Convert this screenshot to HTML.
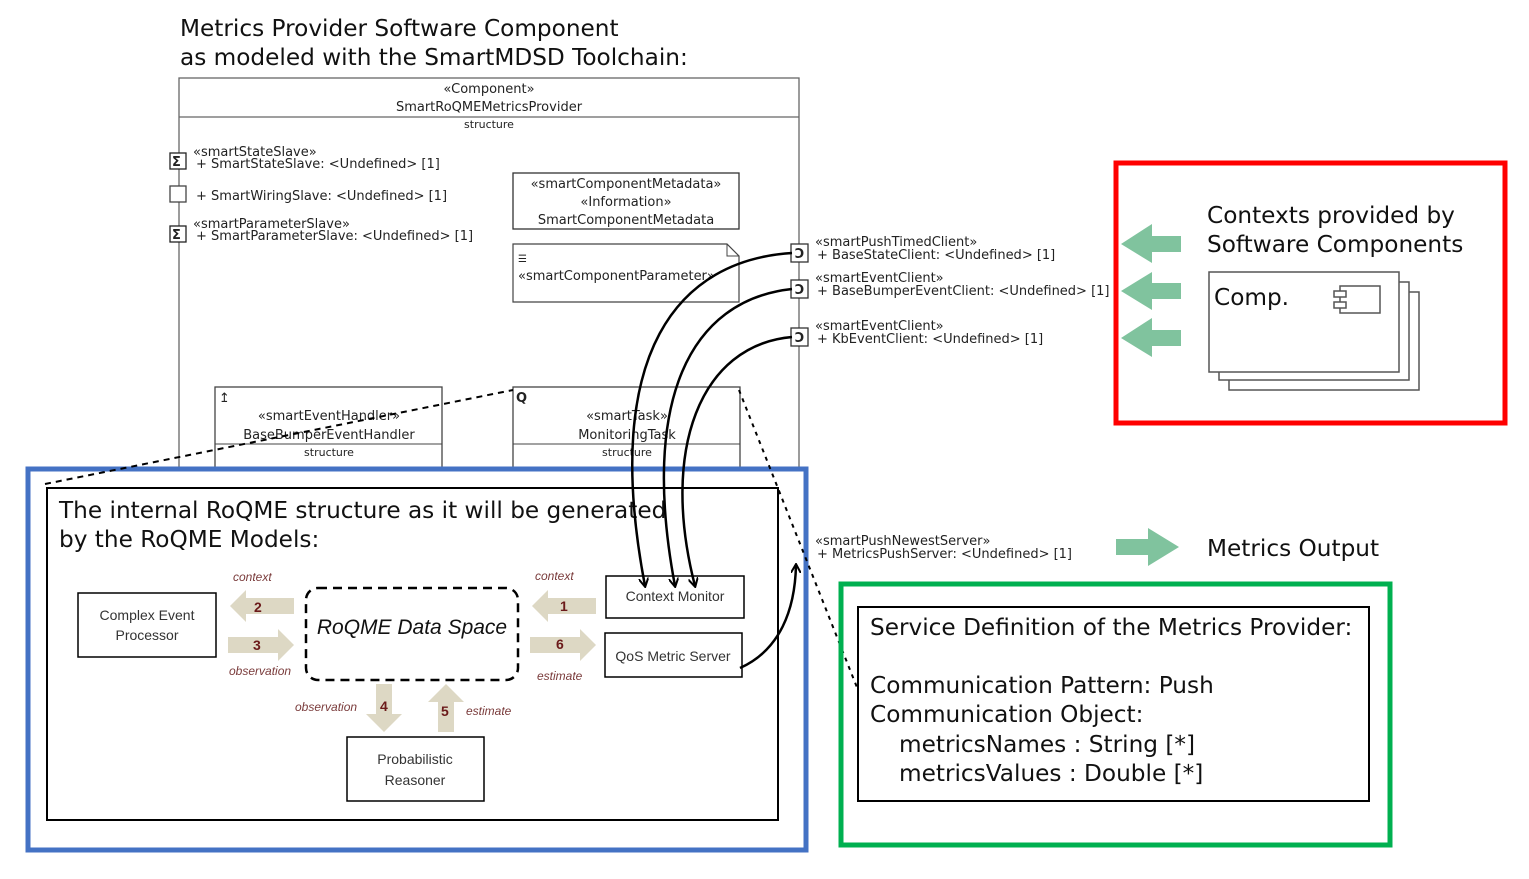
<!DOCTYPE html>
<html><head><meta charset="utf-8"><style>
html,body{margin:0;padding:0;background:#fff;}
svg{display:block;}
.s{font-family:"DejaVu Sans","Liberation Sans",sans-serif;font-size:13px;fill:#222;}
.b{font-family:"DejaVu Sans","Liberation Sans",sans-serif;font-size:23.2px;fill:#111;}
.m{font-family:"Liberation Sans",sans-serif;font-size:14px;fill:#333;}
.i{font-family:"Liberation Sans",sans-serif;font-style:italic;font-size:12px;fill:#7a3b3b;}
.n{font-family:"Liberation Sans",sans-serif;font-weight:bold;font-size:14px;fill:#6b1a1a;}
</style></head><body>
<svg width="1529" height="879" viewBox="0 0 1529 879" xmlns="http://www.w3.org/2000/svg">
<defs><marker id="ah" markerWidth="10" markerHeight="10" refX="8" refY="5" orient="auto" markerUnits="userSpaceOnUse"><path d="M0,0 L9,5 L0,10" fill="none" stroke="#000" stroke-width="2"/></marker></defs>
<text class="b" x="180" y="36">Metrics Provider Software Component</text>
<text class="b" x="180" y="65">as modeled with the SmartMDSD Toolchain:</text>

<rect x="179" y="78" width="620" height="400" fill="none" stroke="#666" stroke-width="1.3"/>
<line x1="179" y1="117" x2="799" y2="117" stroke="#666" stroke-width="1.3"/>
<text class="s" x="489" y="93" text-anchor="middle">«Component»</text>
<text class="s" x="489" y="111" text-anchor="middle">SmartRoQMEMetricsProvider</text>
<text class="s" x="489" y="128" text-anchor="middle" style="font-size:11px">structure</text>

<rect x="170" y="153" width="16" height="16" fill="#fff" stroke="#222" stroke-width="1.3"/><text class="s" x="172" y="166" style="font-weight:bold">Σ</text>
<text class="s" x="193" y="156">«smartStateSlave»</text><text class="s" x="196" y="168">+ SmartStateSlave: &lt;Undefined&gt; [1]</text>
<rect x="170" y="186" width="16" height="16" fill="#fff" stroke="#444" stroke-width="1.3"/>
<text class="s" x="196" y="200">+ SmartWiringSlave: &lt;Undefined&gt; [1]</text>
<rect x="170" y="226" width="16" height="16" fill="#fff" stroke="#222" stroke-width="1.3"/><text class="s" x="172" y="239" style="font-weight:bold">Σ</text>
<text class="s" x="193" y="228">«smartParameterSlave»</text><text class="s" x="196" y="240">+ SmartParameterSlave: &lt;Undefined&gt; [1]</text>

<rect x="513" y="173" width="226" height="56" fill="#fff" stroke="#333" stroke-width="1.3"/>
<text class="s" x="626" y="188" text-anchor="middle">«smartComponentMetadata»</text>
<text class="s" x="626" y="206" text-anchor="middle">«Information»</text>
<text class="s" x="626" y="224" text-anchor="middle">SmartComponentMetadata</text>
<path d="M513,244 H727 L739,256 V302 H513 Z" fill="#fff" stroke="#444" stroke-width="1.2"/>
<path d="M727,244 V256 H739" fill="none" stroke="#444"/>
<text class="s" x="518" y="262" style="font-size:10px">☰</text>
<text class="s" x="518" y="280">«smartComponentParameter»</text>

<rect x="215" y="387" width="227" height="90" fill="#fff" stroke="#444" stroke-width="1.3"/>
<line x1="215" y1="444" x2="442" y2="444" stroke="#444"/>
<text class="s" x="219" y="402">↥</text>
<text class="s" x="329" y="420" text-anchor="middle">«smartEventHandler»</text>
<text class="s" x="329" y="439" text-anchor="middle">BaseBumperEventHandler</text>
<text class="s" x="329" y="456" text-anchor="middle" style="font-size:11px">structure</text>
<rect x="513" y="387" width="227" height="90" fill="#fff" stroke="#444" stroke-width="1.3"/>
<line x1="513" y1="444" x2="740" y2="444" stroke="#444"/>
<text class="s" x="516" y="402" style="font-weight:bold">Q</text>
<text class="s" x="627" y="420" text-anchor="middle">«smartTask»</text>
<text class="s" x="627" y="439" text-anchor="middle">MonitoringTask</text>
<text class="s" x="627" y="456" text-anchor="middle" style="font-size:11px">structure</text>

<g fill="#fff" stroke="#333" stroke-width="1.3">
<rect x="791" y="244" width="17" height="18"/><rect x="791" y="280" width="17" height="18"/><rect x="791" y="328" width="17" height="18"/><rect x="791" y="542" width="10" height="18"/>
</g>
<g font-weight="bold"><text x="795" y="258" class="s">Ͻ</text><text x="795" y="294" class="s">Ͻ</text><text x="795" y="342" class="s">Ͻ</text></g>
<text class="s" x="815" y="246">«smartPushTimedClient»</text><text class="s" x="817" y="259">+ BaseStateClient: &lt;Undefined&gt; [1]</text>
<text class="s" x="815" y="282">«smartEventClient»</text><text class="s" x="817" y="295">+ BaseBumperEventClient: &lt;Undefined&gt; [1]</text>
<text class="s" x="815" y="330">«smartEventClient»</text><text class="s" x="817" y="343">+ KbEventClient: &lt;Undefined&gt; [1]</text>
<text class="s" x="815" y="545">«smartPushNewestServer»</text><text class="s" x="817" y="558">+ MetricsPushServer: &lt;Undefined&gt; [1]</text>

<rect x="28" y="469" width="778" height="381" fill="#fff" stroke="#4472c4" stroke-width="5"/>
<path d="M45,484 L513,390" fill="none" stroke="#000" stroke-width="2" stroke-dasharray="6,5"/>
<path d="M739,390 L858,690" fill="none" stroke="#000" stroke-width="2" stroke-dasharray="4,5"/>
<rect x="47" y="488" width="731" height="332" fill="#fff" stroke="#000" stroke-width="2"/>
<text class="b" x="59" y="518">The internal RoQME structure as it will be generated</text>
<text class="b" x="59" y="547">by the RoQME Models:</text>

<rect x="78" y="593" width="138" height="64" fill="#fff" stroke="#000" stroke-width="1.5"/>
<text class="m" x="147" y="620" text-anchor="middle">Complex Event</text><text class="m" x="147" y="640" text-anchor="middle">Processor</text>
<rect x="306" y="588" width="212" height="92" rx="12" fill="none" stroke="#000" stroke-width="2.5" stroke-dasharray="9,6"/>
<text class="m" x="412" y="634" text-anchor="middle" style="font-size:21px;font-style:italic;fill:#111">RoQME Data Space</text>
<rect x="606" y="576" width="138" height="42" fill="#fff" stroke="#000" stroke-width="1.5"/>
<text class="m" x="675" y="601" text-anchor="middle">Context Monitor</text>
<rect x="605" y="633" width="137" height="44" fill="#fff" stroke="#000" stroke-width="1.5"/>
<text class="m" x="673" y="661" text-anchor="middle">QoS Metric Server</text>
<rect x="347" y="737" width="137" height="64" fill="#fff" stroke="#000" stroke-width="1.5"/>
<text class="m" x="415" y="764" text-anchor="middle">Probabilistic</text><text class="m" x="415" y="785" text-anchor="middle">Reasoner</text>

<g fill="#ddd8c4">
<path d="M230,606 L246,590 V598 H294 V614 H246 V622 Z"/>
<path d="M294,645 L278,629 V637 H228 V653 H278 V661 Z"/>
<path d="M532,606 L548,590 V598 H596 V614 H548 V622 Z"/>
<path d="M596,645 L580,629 V637 H530 V653 H580 V661 Z"/>
<path d="M384,732 L366,714 H376 V684 H392 V714 H402 Z"/>
<path d="M446,684 L464,702 H454 V732 H438 V702 H428 Z"/>
</g>
<text class="n" x="254" y="612">2</text><text class="n" x="253" y="650">3</text>
<text class="n" x="560" y="611">1</text><text class="n" x="556" y="649">6</text>
<text class="n" x="380" y="711">4</text><text class="n" x="441" y="716">5</text>
<text class="i" x="233" y="581">context</text><text class="i" x="229" y="675">observation</text>
<text class="i" x="535" y="580">context</text><text class="i" x="537" y="680">estimate</text>
<text class="i" x="295" y="711">observation</text><text class="i" x="466" y="715">estimate</text>

<g fill="none" stroke="#000" stroke-width="2.5">
<path d="M792,253 C680,260 600,350 645,586" marker-end="url(#ah)"/>
<path d="M792,289 C690,300 640,400 675,586" marker-end="url(#ah)"/>
<path d="M792,337 C700,345 660,450 695,586" marker-end="url(#ah)"/>
<path d="M740,668 C780,650 795,610 796,565" marker-end="url(#ah)"/>
</g>

<rect x="1116" y="163" width="389" height="260" fill="none" stroke="#ff0000" stroke-width="5"/>
<text class="b" x="1207" y="223">Contexts provided by</text>
<text class="b" x="1207" y="252">Software Components</text>
<g fill="#80c39e">
<path d="M1121,244 L1152,224 V236 H1181 V252 H1152 V263 Z"/>
<path d="M1121,291 L1152,272 V283 H1181 V299 H1152 V310 Z"/>
<path d="M1121,338 L1152,318 V330 H1181 V346 H1152 V357 Z"/>
<path d="M1179,547 L1148,528 V539 H1116 V555 H1148 V566 Z"/>
</g>
<g fill="#fff" stroke="#555" stroke-width="1.5">
<rect x="1229" y="292" width="190" height="98"/>
<rect x="1219" y="282" width="190" height="98"/>
<rect x="1209" y="272" width="190" height="100"/>
<rect x="1340" y="286" width="40" height="27"/>
<rect x="1334" y="291" width="12" height="6"/><rect x="1334" y="302" width="12" height="6"/>
</g>
<text class="b" x="1214" y="305">Comp.</text>
<text class="b" x="1207" y="556">Metrics Output</text>

<rect x="841" y="584" width="549" height="261" fill="none" stroke="#00b050" stroke-width="5"/>
<rect x="858" y="607" width="511" height="194" fill="#fff" stroke="#000" stroke-width="2"/>
<text class="b" x="870" y="635">Service Definition of the Metrics Provider:</text>
<text class="b" x="870" y="693">Communication Pattern: Push</text>
<text class="b" x="870" y="722">Communication Object:</text>
<text class="b" x="899" y="752">metricsNames : String [*]</text>
<text class="b" x="899" y="781">metricsValues : Double [*]</text>
</svg>
</body></html>
